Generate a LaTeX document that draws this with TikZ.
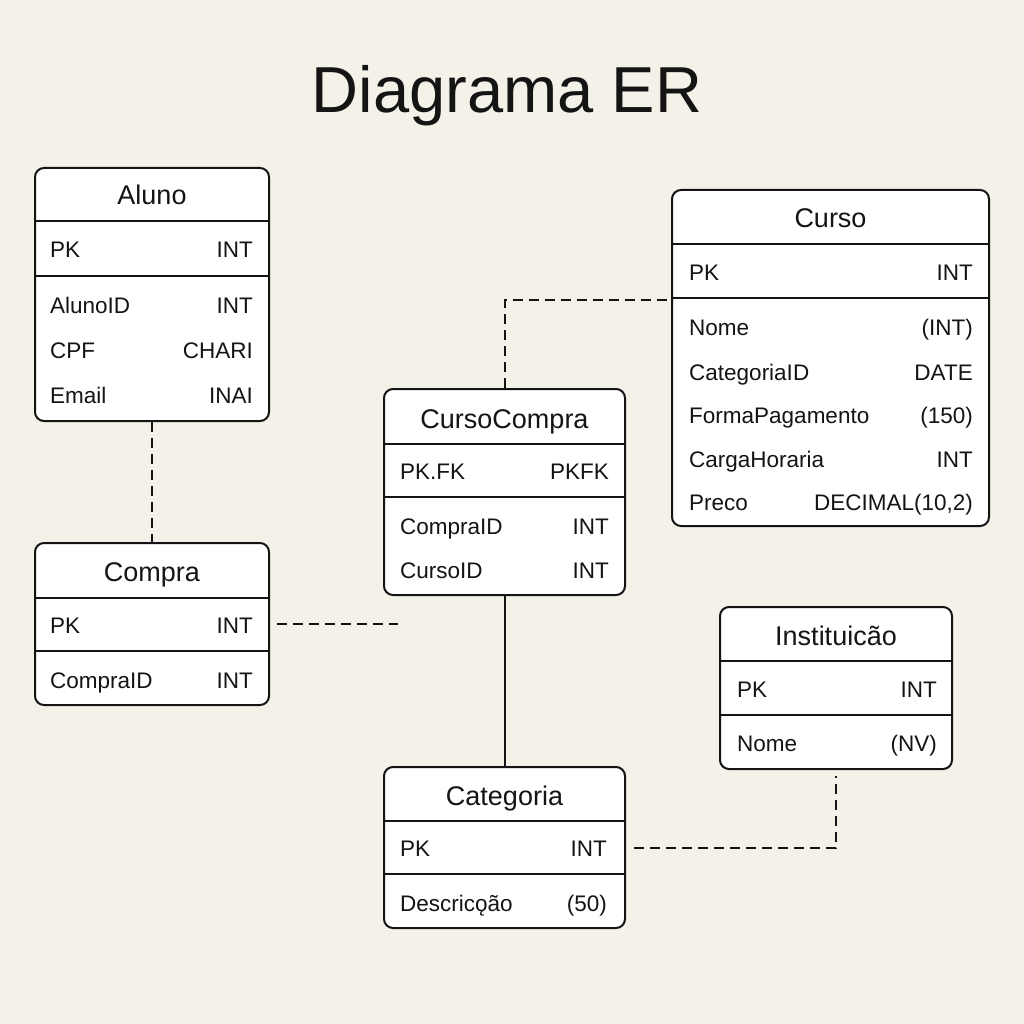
\documentclass[tikz,border=0pt]{standalone}
\usepackage{fontspec}
\setmainfont{Liberation Sans}
\usetikzlibrary{positioning}
\definecolor{paper}{HTML}{F4F1E9}
\definecolor{ink}{HTML}{141414}
\tikzset{
  tbl/.style={draw=ink, line width=2pt, rounded corners=9pt, fill=white, inner sep=0pt},
  head/.style={font=\fontsize{27}{30}\selectfont, text=ink, anchor=base, inner sep=0pt},
  attr/.style={font=\fontsize{22.5}{26}\selectfont, text=ink, anchor=base west, inner sep=0pt},
  kind/.style={font=\fontsize{22.5}{26}\selectfont, text=ink, anchor=base east, inner sep=0pt},
  sep/.style={draw=ink, line width=1.8pt},
  link/.style={draw=ink, line width=2pt, dash pattern=on 10pt off 6pt},
}
\begin{document}
\begin{tikzpicture}[x={(1pt,0)},y={(0,-1pt)}]
\fill[paper] (0,0) rectangle (1024,1024);
\useasboundingbox (0,0) rectangle (1024,1024);
\node[font=\fontsize{65}{70}\selectfont, text=ink, anchor=base, inner sep=0pt] (title) at (507,113) {Diagrama ER};
%%the tables
\node[tbl, minimum width=234pt, minimum height=253pt] (aluno) at (152,294.5) {};
\node[tbl, minimum width=234pt, minimum height=162pt] (compra) at (152,624) {};
\node[tbl, minimum width=241pt, minimum height=206pt] (cursocompra) at (504.5,492) {};
\node[tbl, minimum width=317pt, minimum height=336pt] (curso) at (830.5,358) {};
\node[tbl, minimum width=232pt, minimum height=162pt] (instituicao) at (836,688) {};
\node[tbl, minimum width=241pt, minimum height=161pt] (categoria) at (504.5,847.5) {};
%%the separators
\foreach \t/\y in {aluno/221,aluno/276,compra/598,compra/651,cursocompra/444,cursocompra/497,
  curso/244,curso/298,instituicao/661,instituicao/715,categoria/821,categoria/874}
  \draw[sep] (\t.west |- 0,\y) -- (\t.east |- 0,\y);
%%the headers
\path (aluno.north |- 0,205) node[head] {Aluno}
  (compra.north |- 0,581) node[head] {Compra}
  (cursocompra.north |- 0,428) node[head] {CursoCompra}
  (curso.north |- 0,228) node[head] {Curso}
  (instituicao.north |- 0,645) node[head] {Instituicão}
  (categoria.north |- 0,805) node[head] {Categoria};
%%the rows
\foreach \a/\k/\y in {PK/INT/258,AlunoID/INT/313,CPF/CHARI/358,Email/INAI/403}
  \path (50,\y) node[attr] {\a} (253,\y) node[kind] {\k};
\foreach \a/\k/\y in {PK/INT/633,CompraID/INT/688}
  \path (50,\y) node[attr] {\a} (253,\y) node[kind] {\k};
\foreach \a/\k/\y in {PK.FK/PKFK/479,CompraID/INT/534,CursoID/INT/578}
  \path (400,\y) node[attr] {\a} (609,\y) node[kind] {\k};
\foreach \a/\k/\y in {PK/INT/280,Nome/(INT)/335,CategoriaID/DATE/380,FormaPagamento/(150)/423,
  CargaHoraria/INT/467,Preco/{DECIMAL(10,2)}/510}
  \path (689,\y) node[attr] {\a} (973,\y) node[kind] {\k};
\foreach \a/\k/\y in {PK/INT/697,Nome/(NV)/751}
  \path (737,\y) node[attr] {\a} (937,\y) node[kind] {\k};
\foreach \a/\k/\y in {PK/INT/856,Descricǫão/(50)/911}
  \path (400,\y) node[attr] {\a} (607,\y) node[kind] {\k};
%%now the connectors
\coordinate (ccfree) at (398,624);
\draw[link] (aluno.south) -- (compra.north);
\draw[link] ([xshift=7pt]compra.east) -- (ccfree);
\draw[link] (cursocompra.north) |- (curso.west |- 0,300);
\draw[ink, line width=2pt] (cursocompra.south) -- (categoria.north);
\draw[link] ([xshift=8pt]categoria.east) -| ([yshift=-6pt]instituicao.south);
\end{tikzpicture}
\end{document}
